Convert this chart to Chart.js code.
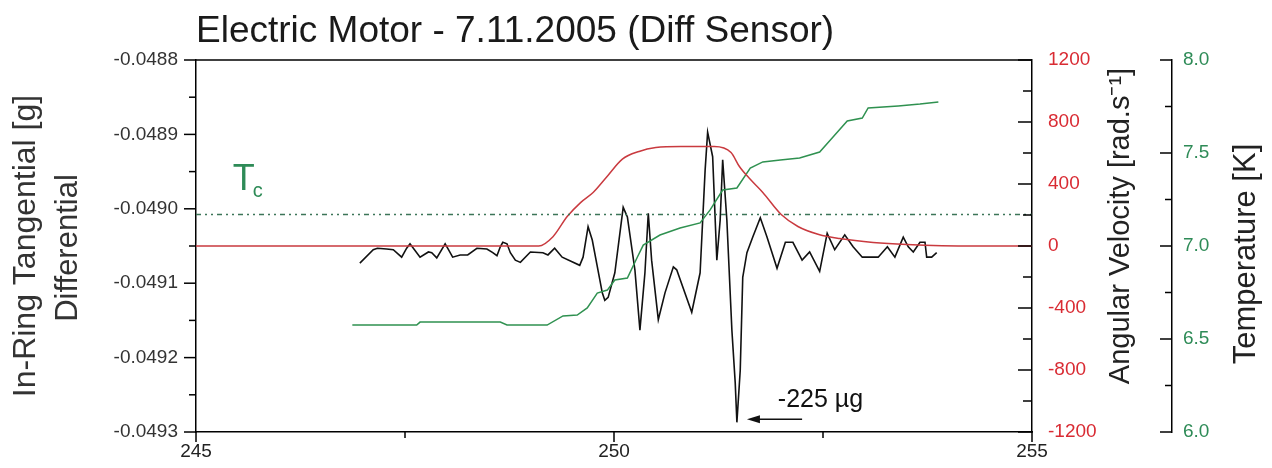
<!DOCTYPE html>
<html>
<head>
<meta charset="utf-8">
<script src="https://cdn.jsdelivr.net/npm/chart.js@4.4.1/dist/chart.umd.min.js"></script>
<style>
  html, body { margin: 0; padding: 0; background: #fff; }
  #wrap { width: 1272px; height: 468px; }
</style>
</head>
<body>
<div id="wrap"><canvas id="motorChart" width="1272" height="468"></canvas></div>
<script>

// =======================
// DATA
// =======================

// differential in-ring tangential signal [g]
const diffX = [246.96, 247.12, 247.17, 247.28, 247.36, 247.46, 247.52, 247.56, 247.60, 247.68,
  247.78, 247.82, 247.88, 247.98, 248.01, 248.07, 248.16, 248.25, 248.36, 248.48,
  248.55, 248.60, 248.64, 248.67, 248.72, 248.76, 248.82, 248.88, 249.00, 249.15,
  249.21, 249.29, 249.38, 249.59, 249.63, 249.69, 249.74, 249.86, 249.89, 249.93,
  250.01, 250.11, 250.16, 250.25, 250.31, 250.37, 250.41, 250.45, 250.53, 250.61,
  250.71, 250.75, 250.93, 251.03, 251.09, 251.12, 251.18, 251.23, 251.27, 251.30,
  251.35, 251.41, 251.45, 251.47, 251.51, 251.54, 251.59, 251.66, 251.75, 251.83,
  251.95, 252.05, 252.14, 252.25, 252.34, 252.46, 252.55, 252.64, 252.76, 252.86,
  252.97, 253.16, 253.27, 253.36, 253.46, 253.52, 253.58, 253.66, 253.72, 253.74,
  253.80, 253.86];
const diffY = [-0.049073, -0.049055, -0.049053, -0.049054, -0.049055, -0.049065, -0.049053, -0.049047, -0.049053, -0.049065,
  -0.049058, -0.049059, -0.049066, -0.049047, -0.049053, -0.049065, -0.049062, -0.049062, -0.049053, -0.049054,
  -0.049059, -0.049063, -0.049051, -0.049045, -0.049047, -0.049059, -0.049069, -0.049072, -0.049058, -0.049059,
  -0.049062, -0.049053, -0.049065, -0.049076, -0.049065, -0.049024, -0.049042, -0.049113, -0.049123, -0.049119,
  -0.049086, -0.048998, -0.049011, -0.049082, -0.049163, -0.049086, -0.049006, -0.049069, -0.049149, -0.049113,
  -0.049078, -0.049082, -0.049139, -0.049086, -0.048948, -0.048897, -0.048930, -0.049069, -0.049015, -0.048934,
  -0.049015, -0.049163, -0.049234, -0.049287, -0.049217, -0.049092, -0.049059, -0.049038, -0.049012, -0.049038,
  -0.049080, -0.049045, -0.049045, -0.049069, -0.049058, -0.049084, -0.049033, -0.049055, -0.049035, -0.049051,
  -0.049065, -0.049065, -0.049051, -0.049065, -0.049038, -0.049051, -0.049058, -0.049045, -0.049045, -0.049065,
  -0.049065, -0.049059];

// angular velocity [rad/s]
const velX = [245, 249.10, 249.27, 249.44, 249.60, 249.75, 249.92, 250.10, 250.30, 250.50, 250.80, 251.20,
  251.40, 251.50, 251.63, 251.78, 252.00, 252.20, 252.45, 252.70, 253.10, 253.50, 254.30, 255];
const velY = [0, 0, 60, 190, 280, 345, 450, 560, 610, 635, 642, 642,
  603, 513, 430, 345, 203, 126, 74, 48, 23, 10, 0, 0];

// temperature [K]
const tempX = [246.87, 247.64, 247.68, 248.64, 248.72, 249.20, 249.39, 249.56, 249.68, 249.80, 249.92,
  250.01, 250.16, 250.28, 250.35, 250.55, 250.79, 251.03, 251.15, 251.30, 251.47, 251.63, 251.78,
  251.99, 252.22, 252.46, 252.62, 252.79, 252.97, 253.04, 253.40, 253.66, 253.88];
const tempY = [6.575, 6.575, 6.591, 6.591, 6.575, 6.575, 6.624, 6.629, 6.667, 6.747, 6.763,
  6.817, 6.828, 6.941, 7.005, 7.059, 7.097, 7.124, 7.194, 7.301, 7.312, 7.419, 7.452,
  7.462, 7.473, 7.505, 7.586, 7.672, 7.688, 7.742, 7.753, 7.763, 7.774];

// critical temperature line
const tcX = [245, 255];
const tcY = [7.17, 7.17];

// tick labels
const xTicks = [245, 250, 255];
const diffTicks = [-0.0493, -0.0492, -0.0491, -0.0490, -0.0489, -0.0488];
const velTicks = [-1200, -800, -400, 0, 400, 800, 1200];
const tempTicks = [6.0, 6.5, 7.0, 7.5, 8.0];

// annotations
const TC_LABEL = { x: 245.44, t: 7.30 };
const MIN_LABEL = { x: 251.96, y: -0.049266, text: "-225 \u00b5g" };
const MIN_ARROW = { from: 252.25, to: 251.59, y: -0.049283 };

// =======================
// STYLE
// =======================

const FONT = "'Liberation Sans', Arial, sans-serif";
const RED = "#c93a3f";
const RED_TEXT = "#d92b33";
const GREEN = "#2f9150";
const GREEN_TEXT = "#2e8b57";
const TICK_FONT = { family: FONT, size: 19 };

const pts = (xs, ys) => xs.map((x, i) => ({ x: x, y: ys[i] }));
const mids = arr => arr.slice(1).map((v, i) => (v + arr[i]) / 2);

// =======================
// DECORATION PLUGIN
// =======================

function seg(ctx, x1, y1, x2, y2) {
  ctx.beginPath();
  ctx.moveTo(x1, y1);
  ctx.lineTo(x2, y2);
  ctx.stroke();
}

function vTicks(ctx, scale, x0, majors, big, small) {
  majors.forEach(v => {
    const y = scale.getPixelForValue(v);
    seg(ctx, x0, y, x0 - big, y);
  });
  mids(majors).forEach(v => {
    const y = scale.getPixelForValue(v);
    seg(ctx, x0, y, x0 - small, y);
  });
}

function upText(ctx, text, x, y, font, color) {
  ctx.save();
  ctx.translate(x, y);
  ctx.rotate(-Math.PI / 2);
  ctx.font = font;
  ctx.fillStyle = color;
  ctx.textAlign = "center";
  ctx.textBaseline = "alphabetic";
  ctx.fillText(text, 0, 0);
  ctx.restore();
}

const decorations = {
  id: "decorations",
  afterDraw(chart) {
    const { ctx, chartArea: a, scales } = chart;
    const midY = (a.top + a.bottom) / 2;
    ctx.save();
    ctx.strokeStyle = "#000";
    ctx.lineWidth = 1.5;

    // top frame
    seg(ctx, a.left, a.top, a.right, a.top);

    // tick marks (all vertical-axis ticks point left)
    vTicks(ctx, scales.yG, scales.yG.right, diffTicks, 12, 7);
    vTicks(ctx, scales.yV, scales.yV.left, velTicks, 14, 9);
    vTicks(ctx, scales.yT, scales.yT.left, tempTicks, 12, 7);
    xTicks.forEach(v => {
      const x = scales.x.getPixelForValue(v);
      seg(ctx, x, a.bottom, x, a.bottom + 10);
    });
    mids(xTicks).forEach(v => {
      const x = scales.x.getPixelForValue(v);
      seg(ctx, x, a.bottom, x, a.bottom + 6);
    });

    // chart title
    ctx.font = "37px " + FONT;
    ctx.fillStyle = "#1a1a1a";
    ctx.textAlign = "left";
    ctx.textBaseline = "alphabetic";
    ctx.fillText("Electric Motor - 7.11.2005 (Diff Sensor)", a.left, a.top - 18);

    // axis titles
    upText(ctx, "In-Ring Tangential [g]", scales.yG.left + 35, midY, "32px " + FONT, "#333");
    upText(ctx, "Differential", scales.yG.left + 77, midY + 2, "31px " + FONT, "#333");
    upText(ctx, "Angular Velocity [rad.s\u207b\u00b9]", scales.yV.left + 97, midY - 20, "29px " + FONT, "#222");
    upText(ctx, "Temperature [K]", scales.yT.left + 83, midY + 8, "31px " + FONT, "#222");

    // Tc label
    const tx = scales.x.getPixelForValue(TC_LABEL.x);
    const ty = scales.yT.getPixelForValue(TC_LABEL.t);
    ctx.fillStyle = GREEN_TEXT;
    ctx.font = "36px " + FONT;
    ctx.fillText("T", tx, ty);
    const tw = ctx.measureText("T").width;
    ctx.font = "20px " + FONT;
    ctx.fillText("c", tx + tw - 2, ty + 7);

    // minimum annotation
    ctx.fillStyle = "#111";
    ctx.font = "25px " + FONT;
    ctx.fillText(MIN_LABEL.text, scales.x.getPixelForValue(MIN_LABEL.x), scales.yG.getPixelForValue(MIN_LABEL.y));

    const ay = scales.yG.getPixelForValue(MIN_ARROW.y);
    const ax1 = scales.x.getPixelForValue(MIN_ARROW.from);
    const ax2 = scales.x.getPixelForValue(MIN_ARROW.to);
    ctx.strokeStyle = "#111";
    ctx.lineWidth = 1.5;
    seg(ctx, ax1, ay, ax2 + 8, ay);
    ctx.beginPath();
    ctx.moveTo(ax2, ay);
    ctx.lineTo(ax2 + 13, ay - 4);
    ctx.lineTo(ax2 + 13, ay + 4);
    ctx.closePath();
    ctx.fill();

    ctx.restore();
  }
};

// =======================
// CHART
// =======================

const ctx = document.getElementById("motorChart").getContext("2d");

const chart = new Chart(ctx, {
  type: "line",
  data: {
    datasets: [
      {
        label: "Tc",
        data: pts(tcX, tcY),
        yAxisID: "yT",
        borderColor: "#3c7558",
        borderWidth: 1.5,
        borderDash: [5, 4, 2, 4, 2, 4],
        pointRadius: 0
      },
      {
        label: "Angular Velocity",
        data: pts(velX, velY),
        yAxisID: "yV",
        borderColor: RED,
        borderWidth: 1.5,
        pointRadius: 0,
        cubicInterpolationMode: "monotone"
      },
      {
        label: "Temperature",
        data: pts(tempX, tempY),
        yAxisID: "yT",
        borderColor: GREEN,
        borderWidth: 1.5,
        pointRadius: 0,
        tension: 0
      },
      {
        label: "Differential",
        data: pts(diffX, diffY),
        yAxisID: "yG",
        borderColor: "#111",
        borderWidth: 1.6,
        pointRadius: 0,
        tension: 0
      }
    ]
  },
  options: {
    responsive: false,
    animation: false,
    devicePixelRatio: 1,
    layout: { padding: { top: 60, left: 0, right: 0, bottom: 0 } },
    plugins: {
      legend: { display: false },
      title: { display: false },
      tooltip: { enabled: false }
    },
    scales: {
      x: {
        type: "linear",
        position: "bottom",
        min: 245,
        max: 255,
        afterBuildTicks: s => { s.ticks = xTicks.map(v => ({ value: v })); },
        afterFit: s => { s.height = 36; },
        grid: { display: false, drawTicks: false },
        border: { display: true, color: "#000", width: 1.5 },
        ticks: { color: "#222", font: TICK_FONT, padding: 8, maxRotation: 0, autoSkip: false }
      },
      yG: {
        type: "linear",
        position: "left",
        min: -0.0493,
        max: -0.0488,
        afterBuildTicks: s => { s.ticks = diffTicks.map(v => ({ value: v })); },
        afterFit: s => { s.width = 196; },
        grid: { display: false, drawTicks: false },
        border: { display: true, color: "#000", width: 1.5 },
        ticks: { color: "#333", font: TICK_FONT, padding: 18, autoSkip: false, callback: v => v.toFixed(4) }
      },
      yV: {
        type: "linear",
        position: "right",
        weight: 0,
        min: -1200,
        max: 1200,
        afterBuildTicks: s => { s.ticks = velTicks.map(v => ({ value: v })); },
        afterFit: s => { s.width = 140; },
        grid: { display: false, drawTicks: false },
        border: { display: true, color: "#000", width: 1.5 },
        ticks: { color: RED_TEXT, font: TICK_FONT, padding: 16, autoSkip: false, callback: v => String(v) }
      },
      yT: {
        type: "linear",
        position: "right",
        weight: 1,
        min: 6,
        max: 8,
        afterBuildTicks: s => { s.ticks = tempTicks.map(v => ({ value: v })); },
        afterFit: s => { s.width = 100; },
        grid: { display: false, drawTicks: false },
        border: { display: true, color: "#000", width: 1.5 },
        ticks: { color: GREEN_TEXT, font: TICK_FONT, padding: 11, autoSkip: false, callback: v => v.toFixed(1) }
      }
    }
  },
  plugins: [decorations]
});

</script>
</body>
</html>
